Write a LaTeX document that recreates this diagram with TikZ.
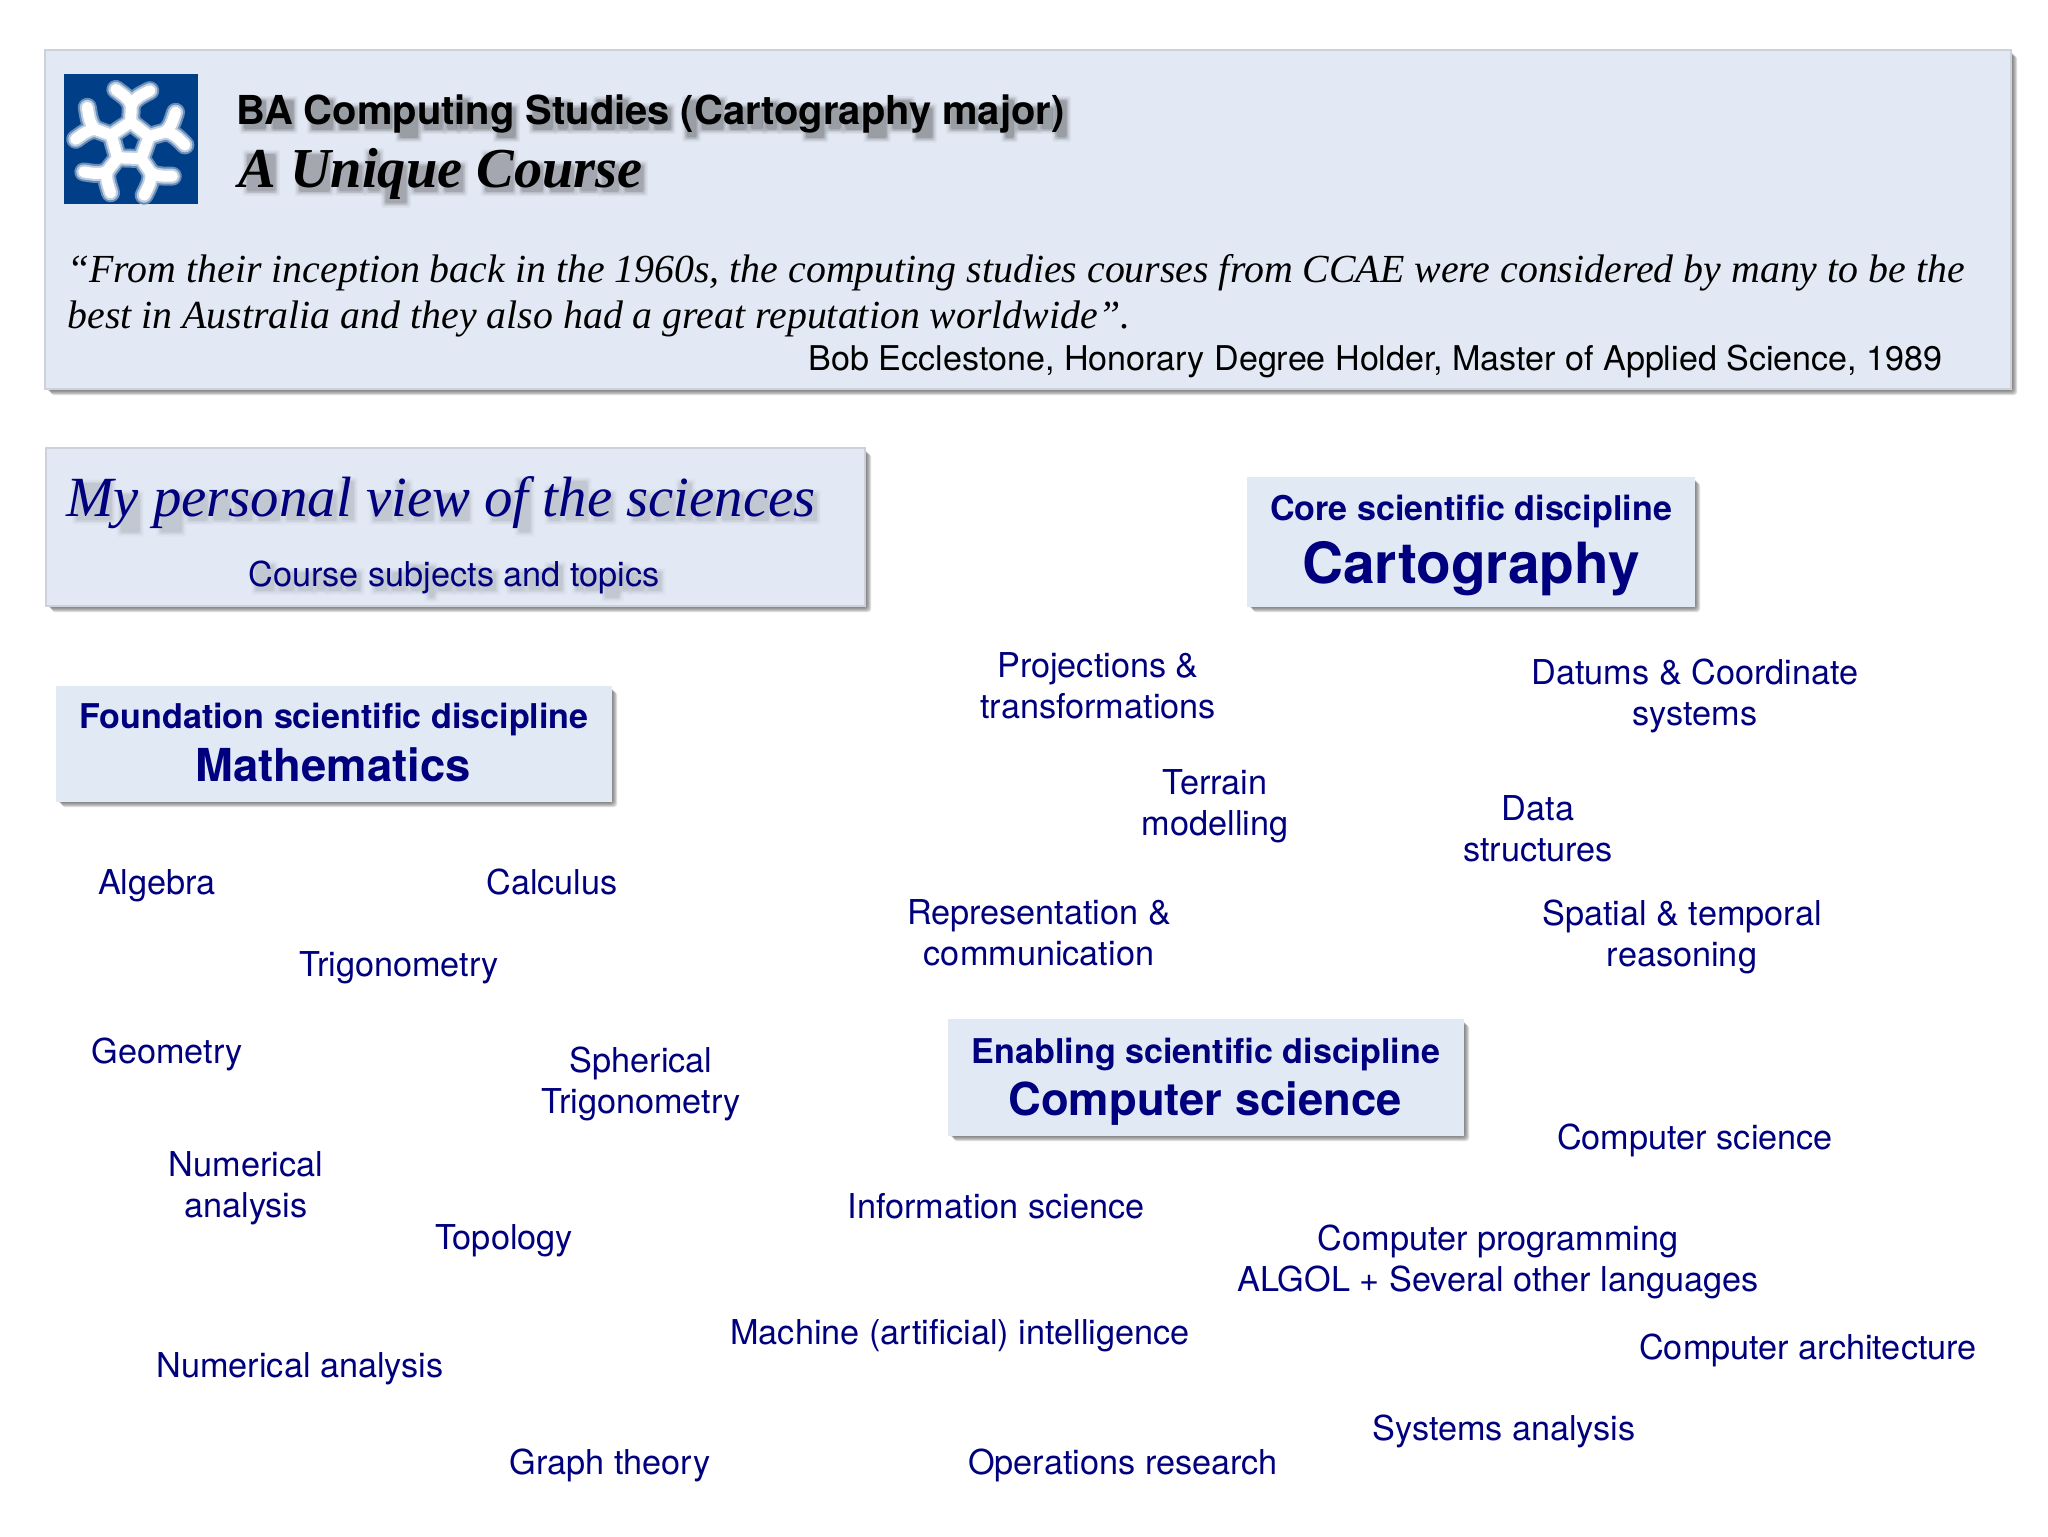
\documentclass[tikz,border=0pt]{standalone}
\usepackage{fontspec}
\usetikzlibrary{calc}
\setmainfont{TeX Gyre Heros}
\newfontfamily\timesf{Liberation Serif}
\definecolor{navy}{HTML}{00007F}
\definecolor{panel}{HTML}{E3E9F4}
\definecolor{panelb}{HTML}{E1E9F5}
\definecolor{edgeg}{HTML}{CDD1D8}
\definecolor{logoblue}{HTML}{003F87}
\tikzset{
  x=0.5pt,y=-0.5pt,
  lbl/.style={inner sep=0pt,align=center,text=navy,font=\fontsize{17.13}{20.5}\selectfont,
    execute at begin node=\strut,execute at end node=\strut},
  panelbox/.style={draw=edgeg,line width=0.6pt,fill=panel},
  headbox/.style={draw=panelb,line width=0.4pt,fill=panelb},
  shadowbox/.style={fill=black!70,draw=none,opacity=0.18,rounded corners=1.5pt},
  txt/.style={inner sep=0pt},
  flake/.style={line cap=round,line join=round,draw=#1},
}
% panel with soft drop shadow: style, top-left, bottom-right
\newcommand{\panel}[3]{%
  \foreach \d in {1,2,3,4,5,6}{
    \fill[shadowbox] ($(#2)+(\d,\d)$) rectangle ($(#3)+(\d,\d)$);
  }
  \path[#1] (#2) rectangle (#3);
}
% soft text shadow built from the measured box of each character, no glyphs are drawn
\newlength{\prew}\newlength{\postw}\newlength{\chh}\newlength{\chd}
\AtBeginDocument{\let\origselfont\selectfont}
\newcommand{\realfont}{\let\selectfont\origselfont}
\ExplSyntaxOn
\tl_new:N \l_shpre_tl
\NewDocumentCommand{\softshadow}{mmmmm}{
  \tl_clear:N \l_shpre_tl
  \str_map_inline:nn {#5}{
    \settowidth{\prew}{\realfont #2\tl_use:N \l_shpre_tl}
    \tl_put_right:Nn \l_shpre_tl {##1}
    \settowidth{\postw}{\realfont #2\tl_use:N \l_shpre_tl}
    \settoheight{\chh}{\realfont #2##1}
    \settodepth{\chd}{\realfont #2##1}
    \dim_compare:nNnT {\chh} > {0pt}{
      \shblob{#1}{#3}{#4}
    }
  }
}
\ExplSyntaxOff
\newcommand{\shblob}[3]{%
  \foreach \e/\q in {0.0/1.0,0.7/0.75,1.4/0.5,2.2/0.3}{
    \pgfmathsetmacro{\op}{#3*\q}
    \fill[#2,opacity=\op,rounded corners=0.8pt]
      ($(#1)+(\prew+0.12\postw-0.12\prew-\e pt+2.2pt,-2.2pt-\chd-\e pt)$)
      rectangle
      ($(#1)+(\postw-0.12\postw+0.12\prew+\e pt+2.2pt,-2.2pt+\chh+\e pt)$);
  }%
}
\begin{document}
\begin{tikzpicture}
\useasboundingbox (0,0) rectangle (2048,1536);
\fill[white] (0,0) rectangle (2048,1536);

\panel{panelbox}{45,50}{2011,389}
\panel{panelbox}{46,448}{865,606}
\panel{headbox}{1247,477}{1694,606}
\panel{headbox}{56,686}{611,801}
\panel{headbox}{948,1019}{1463,1135}

% logo
\fill[logoblue] (64,74) rectangle (198,204);
\begin{scope}[shift={(130,142)}]
  \foreach \w/\c in {19/{logoblue!60!white},15/{logoblue!25!white},11/white}{
    \foreach \a in {0,72,144,216,288}{
      \begin{scope}[rotate=\a-2]
        \draw[flake=\c,line width=\w*0.5pt] (0,-20) -- (0,-37);
        \draw[flake=\c,line width=\w*0.5pt] (-16,-52) .. controls (-9,-47) and (-3,-44) .. (0,-37) .. controls (3,-44) and (9,-47) .. (18,-52);
        \draw[flake=\c,line width=\w*0.5pt] (0,-20) -- (19,-6.2);
      \end{scope}
    }
  }
\end{scope}

% header titles
\coordinate (btitle) at (236,125);
\coordinate (bunique) at (238,187);
\softshadow{btitle}{\bfseries\fontsize{19.95}{24}\selectfont}{black}{0.14}{BA Computing Studies (Cartography major)}
\softshadow{bunique}{\timesf\bfseries\itshape\fontsize{28.2}{33}\selectfont}{black}{0.12}{A Unique Course}
\node[txt,anchor=base west,font=\bfseries\fontsize{19.95}{24}\selectfont] (title) at (btitle) {BA Computing Studies (Cartography major)};
\node[txt,anchor=base west,font=\timesf\bfseries\itshape\fontsize{28.2}{33}\selectfont] (unique) at (bunique) {A Unique Course};

\node[txt,anchor=west,font=\timesf\itshape\fontsize{19.92}{23}\selectfont] (q1) at (67,273) {“From their inception back in the 1960s, the computing studies courses from CCAE were considered by many to be the};
\node[txt,anchor=west,font=\timesf\itshape\fontsize{19.92}{23}\selectfont] (q2) at (67,319) {best in Australia and they also had a great reputation worldwide”.};
\node[txt,anchor=east,font=\fontsize{17.05}{20}\selectfont] (bob) at (1943,361) {Bob Ecclestone, Honorary Degree Holder, Master of Applied Science, 1989};

% view panel
\coordinate (bview) at (66,516);
\coordinate (bsubj) at (248,586);
\softshadow{bview}{\timesf\itshape\fontsize{28.4}{34}\selectfont}{black}{0.055}{My personal view of the sciences}
\softshadow{bsubj}{\fontsize{17.13}{20}\selectfont}{black}{0.055}{Course subjects and topics}
\node[txt,anchor=base west,text=navy,font=\timesf\itshape\fontsize{28.4}{34}\selectfont] (view) at (bview) {My personal view of the sciences};
\node[txt,anchor=base west,text=navy,font=\fontsize{17.13}{20}\selectfont] (subj) at (bsubj) {Course subjects and topics};

% discipline heads
\tikzset{hsm/.style={txt,text=navy,font=\bfseries\fontsize{17.05}{20}\selectfont},
         hbg/.style={txt,text=navy,font=\bfseries\fontsize{22.7}{27}\selectfont}}
\node[hsm] (coreA) at (1471,512) {Core scientific discipline};
\node[txt,text=navy,font=\bfseries\fontsize{28.4}{34}\selectfont] (coreB) at (1471,569) {Cartography};
\node[hsm] (foundA) at (334,720) {Foundation scientific discipline};
\node[hbg] (foundB) at (333,765) {Mathematics};
\node[hsm] (enabA) at (1206,1054) {Enabling scientific discipline};
\node[hbg] (enabB) at (1205,1104) {Computer science};

% topics
\node[lbl] (t1) at (1098,692) {Projections \&\\transformations};
\node[lbl] (t2) at (1695,698) {Datums \& Coordinate\\systems};
\node[lbl] (t3) at (1215,809) {Terrain\\modelling};
\node[lbl] (t4) at (1538,835) {Data\\structures};
\node[lbl] (t5) at (1039,939) {Representation \&\\communication};
\node[lbl] (t6) at (1682,939) {Spatial \& temporal\\reasoning};
\node[lbl] (c1) at (1695,1141) {Computer science};
\node[lbl] (c2) at (996,1210) {Information science};
\node[lbl] (c3) at (1498,1264) {Computer programming\\ALGOL + Several other languages};
\node[lbl] (c4) at (960,1336) {Machine (artificial) intelligence};
\node[lbl] (c5) at (1808,1351) {Computer architecture};
\node[lbl] (c6) at (1504,1432) {Systems analysis};
\node[lbl] (c7) at (1123,1466) {Operations research};
\node[lbl] (m1) at (157,886) {Algebra};
\node[lbl] (m2) at (552,886) {Calculus};
\node[lbl] (m3) at (399,968) {Trigonometry};
\node[lbl] (m4) at (167,1055) {Geometry};
\node[lbl] (m5) at (641,1086) {Spherical\\Trigonometry};
\node[lbl] (m6) at (246,1191) {Numerical\\analysis};
\node[lbl] (m7) at (504,1241) {Topology};
\node[lbl] (m8) at (300,1369) {Numerical analysis};
\node[lbl] (m9) at (610,1466) {Graph theory};
\end{tikzpicture}
\end{document}
